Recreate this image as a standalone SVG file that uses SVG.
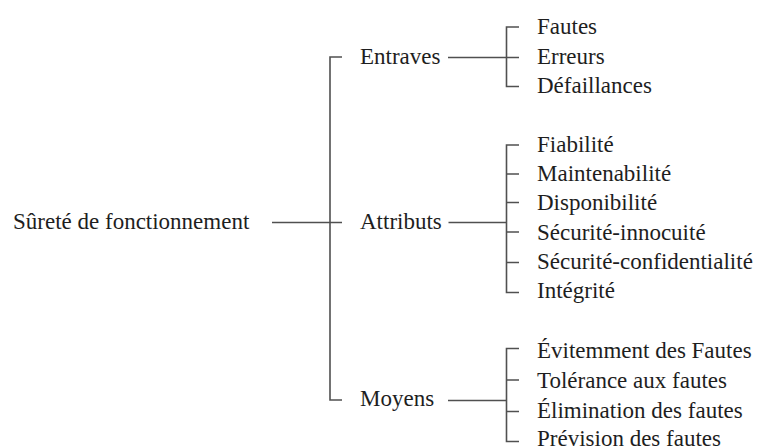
<svg xmlns="http://www.w3.org/2000/svg" width="760" height="448" viewBox="0 0 760 448">
  <style>
    text { font-family: "Liberation Serif", "DejaVu Serif", "Times New Roman", serif; font-size: 23px; fill: #1e1e1e; }
    .ln { fill: none; stroke: #505050; stroke-width: 1.6; }
  </style>
  <rect width="760" height="448" fill="#ffffff"/>

  <g id="connectors">
    <!-- root to main bracket -->
    <path class="ln" d="M272 222.5 H342"/>
    <path class="ln" d="M342 57 H330 V400 H342"/>
    <!-- Entraves branch -->
    <path class="ln" d="M448 57.5 H519"/>
    <path class="ln" d="M519 27 H506.5 V86.5 H519"/>
    <!-- Attributs branch -->
    <path class="ln" d="M448.5 222.5 H506.5"/>
    <path class="ln" d="M519 145 H506.5 V292.5 H519"/>
    <path class="ln" d="M506.5 174 H519 M506.5 202.5 H519 M506.5 232 H519 M506.5 262.5 H519"/>
    <!-- Moyens branch -->
    <path class="ln" d="M448 400.5 H506.5"/>
    <path class="ln" d="M519 348.5 H506.5 V441.5 H519"/>
    <path class="ln" d="M506.5 380 H519 M506.5 411.5 H519"/>
  </g>

  <g id="root"><text x="13" y="228.5" font-family="Liberation Serif, serif">Sûreté de fonctionnement</text></g>

  <g id="entraves"><text x="360" y="63.5" font-family="Liberation Serif, serif">Entraves</text></g>
  <g id="attributs"><text x="360" y="228.5" font-family="Liberation Serif, serif">Attributs</text></g>
  <g id="moyens"><text x="360" y="405.5" font-family="Liberation Serif, serif">Moyens</text></g>

  <g id="fautes"><text x="537" y="33.5">Fautes</text></g>
  <g id="erreurs"><text x="537" y="63.5">Erreurs</text></g>
  <g id="defaillances"><text x="537" y="92.5">Défaillances</text></g>

  <g id="fiabilite"><text x="537" y="151.5">Fiabilité</text></g>
  <g id="maintenabilite"><text x="537" y="181">Maintenabilité</text></g>
  <g id="disponibilite"><text x="537" y="210">Disponibilité</text></g>
  <g id="securite-innocuite"><text x="537" y="239.5">Sécurité-innocuité</text></g>
  <g id="securite-confidentialite"><text x="537" y="269">Sécurité-confidentialité</text></g>
  <g id="integrite"><text x="537" y="298">Intégrité</text></g>

  <g id="evitement"><text x="537" y="358">Évitemment des Fautes</text></g>
  <g id="tolerance"><text x="537" y="388">Tolérance aux fautes</text></g>
  <g id="elimination"><text x="537" y="418">Élimination des fautes</text></g>
  <g id="prevision"><text x="537" y="446">Prévision des fautes</text></g>
</svg>
